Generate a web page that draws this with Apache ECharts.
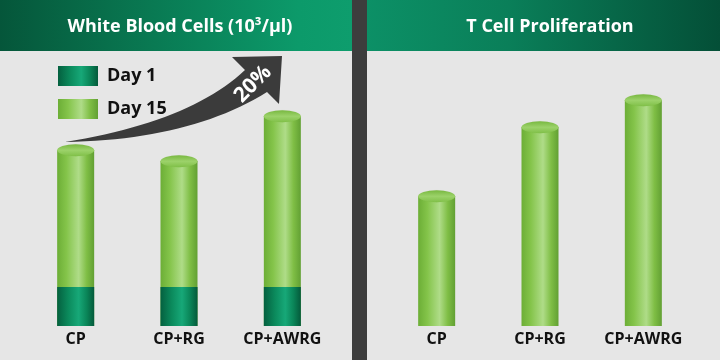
<!DOCTYPE html>
<html><head><meta charset="utf-8">
<script src="https://cdn.jsdelivr.net/npm/echarts@6/dist/echarts.min.js"></script>
<style>html,body{margin:0;padding:0;background:#e6e6e6}#c{width:720px;height:360px}</style>
</head><body><div id="c"></div>
<script>
const categories = ['CP', 'CP+RG', 'CP+AWRG'];
const wbcDay1 = [1.95, 1.95, 1.95];
const wbcDay15 = [8.8, 8.25, 10.5];
const tcell = [6.5, 9.95, 11.3];
const seriesNames = ['Day 1', 'Day 15'];
const leftTitle = 'White Blood Cells (10³/µl)';
const rightTitle = 'T Cell Proliferation';
const arrowLabel = '20%';

const FONT = "'Open Sans', sans-serif";
function lg(x1, y1, x2, y2, stops) {
  return new echarts.graphic.LinearGradient(x1, y1, x2, y2, stops.map(([o, c]) => ({ offset: o, color: c })));
}
const lightGreen = () => lg(0, 0, 1, 0, [[0, '#6cae36'], [0.25, '#84c44a'], [0.58, '#afdc88'], [0.8, '#7fbe45'], [1, '#62a033']]);
const darkGreen = () => lg(0, 0, 1, 0, [[0, '#04603f'], [0.3, '#0b8a5c'], [0.58, '#17a878'], [0.8, '#0a8558'], [1, '#045a3b']]);
const capGreen = () => lg(0, 0, 0, 1, [[0, '#78b840'], [0.5, '#9cd26a'], [1, '#80c048']]);

// curved arrow outline (decoration)
function quad(p0, c, p1, n) {
  const pts = [];
  for (let i = 0; i <= n; i++) {
    const t = i / n, a = (1 - t) * (1 - t), b = 2 * (1 - t) * t, d = t * t;
    pts.push([a * p0[0] + b * c[0] + d * p1[0], a * p0[1] + b * c[1] + d * p1[1]]);
  }
  return pts;
}
const arrowPts = [].concat(
  quad([65, 142], [190, 140], [267, 92], 24),
  [[279, 104], [282, 56], [232, 57]],
  quad([245, 70], [190, 122], [65, 142], 24)
);

const chart = echarts.init(document.getElementById('c'), null, { renderer: 'canvas' });

const xAxisCommon = {
  type: 'category', data: categories,
  axisLine: { show: false }, axisTick: { show: false }, splitLine: { show: false },
  axisLabel: { color: '#111', fontWeight: 'bold', fontSize: 16, fontFamily: FONT, margin: 5, interval: 0 }
};
const yAxisCommon = { type: 'value', min: 0, max: 14, show: false, splitLine: { show: false } };

function capSeries(data, xi) {
  return {
    type: 'pictorialBar', xAxisIndex: xi, yAxisIndex: xi, data: data,
    symbol: 'circle', symbolSize: [37, 12], symbolPosition: 'end', symbolOffset: [0, '-50%'],
    itemStyle: { color: capGreen(), borderColor: '#66a636', borderWidth: 1 }, z: 5, silent: true
  };
}

chart.setOption({
  animation: false,
  backgroundColor: '#e6e6e6',
  grid: [
    { left: 24, width: 310, top: 46, bottom: 34 },
    { left: 385, width: 310, top: 46, bottom: 34 }
  ],
  xAxis: [Object.assign({ gridIndex: 0 }, xAxisCommon), Object.assign({ gridIndex: 1 }, xAxisCommon)],
  yAxis: [Object.assign({ gridIndex: 0 }, yAxisCommon), Object.assign({ gridIndex: 1 }, yAxisCommon)],
  legend: {
    data: seriesNames, orient: 'vertical', left: 53, top: 61,
    itemWidth: 40, itemHeight: 20, itemGap: 13, icon: 'rect',
    textStyle: { color: '#111', fontWeight: 'bold', fontSize: 18, fontFamily: FONT, padding: [0, 0, 0, 4] },
    selectedMode: false
  },
  graphic: [
    { type: 'rect', shape: { x: 0, y: 0, width: 352, height: 51 }, style: { fill: lg(0, 0, 1, 0, [[0, '#05563a'], [0.3, '#086f4b'], [0.85, '#0c9a6a'], [1, '#0e9d6d']]) }, z: 0 },
    { type: 'rect', shape: { x: 367, y: 0, width: 353, height: 51 }, style: { fill: lg(0, 0, 1, 0, [[0, '#0c9066'], [0.4, '#0a7f59'], [1, '#044f37']]) }, z: 0 },
    { type: 'rect', shape: { x: 352, y: 0, width: 15, height: 360 }, style: { fill: '#3d3d3d' }, z: 0 },
    { type: 'text', x: 180, y: 27, style: { text: leftTitle, fill: '#fff', font: "bold 18px 'Open Sans', sans-serif", align: 'center', verticalAlign: 'middle' }, z: 1 },
    { type: 'text', x: 550, y: 27, style: { text: rightTitle, fill: '#fff', font: "bold 18px 'Open Sans', sans-serif", align: 'center', verticalAlign: 'middle' }, z: 1 },
    { type: 'polygon', shape: { points: arrowPts }, style: { fill: '#3b3b3b' }, z: 1 },
    { type: 'text', x: 253, y: 84, rotation: Math.PI / 4, style: { text: arrowLabel, fill: '#fff', font: "bold 21px 'Open Sans', sans-serif", align: 'center', verticalAlign: 'middle' }, z: 2 }
  ],
  series: [
    { name: seriesNames[1], type: 'bar', xAxisIndex: 0, yAxisIndex: 0, data: wbcDay15, barWidth: 37, barGap: '-100%', itemStyle: { color: lightGreen() }, z: 2 },
    { name: seriesNames[0], type: 'bar', xAxisIndex: 0, yAxisIndex: 0, data: wbcDay1, barWidth: 37, barGap: '-100%', itemStyle: { color: darkGreen() }, z: 3 },
    capSeries(wbcDay15, 0),
    { name: 'T Cell', type: 'bar', xAxisIndex: 1, yAxisIndex: 1, data: tcell, barWidth: 37, itemStyle: { color: lightGreen() }, z: 2 },
    capSeries(tcell, 1)
  ]
});
</script></body></html>
